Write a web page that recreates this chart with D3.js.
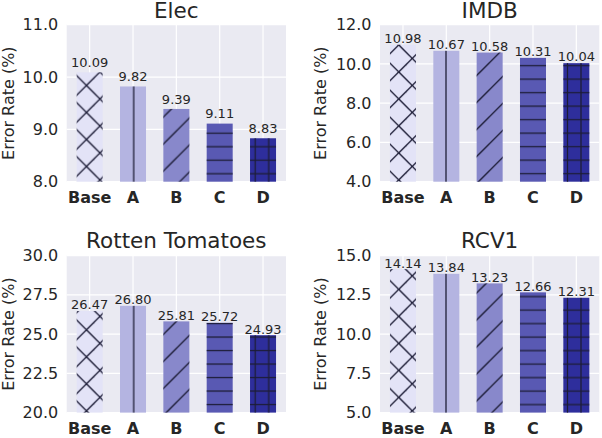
<!DOCTYPE html>
<html>
<head>
<meta charset="UTF-8">
<title>Error Rate</title>
<style>
  body { margin: 0; background: #fff; }
  svg text { font-family: "DejaVu Sans", sans-serif; }
</style>
</head>
<body>
<div id="chart"></div>
<script src="https://d3js.org/d3.v7.min.js"></script>
<script>
// datos
const categories = ["Base", "A", "B", "C", "D"];
const titles = ["Elec", "IMDB", "Rotten Tomatoes", "RCV1"];

const elecValues = [10.09, 9.82, 9.39, 9.11, 8.83];
const imdbValues = [10.98, 10.67, 10.58, 10.31, 10.04];
const rtValues = [26.47, 26.80, 25.81, 25.72, 24.93];
const rcv1Values = [14.14, 13.84, 13.23, 12.66, 12.31];

const elecTicks = [8, 9, 10, 11];
const imdbTicks = [4, 6, 8, 10, 12];
const rtTicks = [20, 22.5, 25, 27.5, 30];
const rcv1Ticks = [5, 7.5, 10, 12.5, 15];

const barColors = ["#e3e3f7", "#b4b4e1", "#8888cb", "#5959b3", "#2e2e9c"];
const hatches = ["x", "|", "/", "-", "+"];

const textColor = "#262626";
const hatchColor = "#1c1c36";
const tile = 27;

// paneles
const plotW = 219.3, plotH = 157;
const panels = [
    { title: titles[0], values: elecValues, ticks: elecTicks, left: 66.7, top: 24.7, labelX: 13.5, shiftX: 0, shiftY: 0 },
    { title: titles[1], values: imdbValues, ticks: imdbTicks, left: 380, top: 24.7, labelX: 326, shiftX: -1, shiftY: 13.5 },
    { title: titles[2], values: rtValues, ticks: rtTicks, left: 66.7, top: 255.6, labelX: 13.5, shiftX: 0, shiftY: 13.5 },
    { title: titles[3], values: rcv1Values, ticks: rcv1Ticks, left: 380, top: 255.6, labelX: 326, shiftX: -1, shiftY: 0 }
];

const svg = d3.select("#chart").append("svg")
    .attr("width", 602)
    .attr("height", 438);
const defs = svg.append("defs");

// lineas de cada trama, en coordenadas del panel
function hatchLines(type) {
    const lines = [];
    const ks = [-3, -2, -1, 0, 1, 2, 3];
    const back = c => [-40, -40 - c, 70, 70 - c];   // x - y = c
    const fwd = c => [-40, c + 40, 70, c - 70];     // x + y = c
    const vert = x => [x, -2, x, tile + 2];
    const horiz = y => [-2, y, tile + 2, y];
    ks.forEach(k => {
        const o = k * tile;
        if (type === "x") { lines.push(back(8 + o)); lines.push(fwd(4.5 + o)); }
        if (type === "/") lines.push(fwd(5 + o));
        if (type === "|") lines.push(vert(13 + o));
        if (type === "-") { lines.push(horiz(5.5 + o)); lines.push(horiz(19 + o)); }
        if (type === "+") {
            lines.push(horiz(5.5 + o)); lines.push(horiz(19 + o));
            lines.push(vert(13 + o)); lines.push(vert(26.5 + o));
        }
    });
    return lines;
}

panels.forEach((p, pi) => {
    const bottom = p.top + plotH;
    const domain = d3.extent(p.ticks);

    hatches.forEach(h => {
        const pat = defs.append("pattern")
            .attr("id", `hatch-${pi}-${hatches.indexOf(h)}`)
            .attr("patternUnits", "userSpaceOnUse")
            .attr("width", tile)
            .attr("height", tile)
            .attr("patternTransform", `translate(${p.left + p.shiftX},${bottom + p.shiftY})`);
        pat.selectAll("line")
            .data(hatchLines(h))
            .enter().append("line")
            .attr("x1", d => d[0]).attr("y1", d => d[1])
            .attr("x2", d => d[2]).attr("y2", d => d[3])
            .attr("stroke", hatchColor)
            .attr("stroke-width", 1.3);
    });

    const x = d3.scaleBand()
        .domain(categories)
        .range([p.left, p.left + plotW])
        .paddingInner(0.4)
        .paddingOuter(0.23);
    const y = d3.scaleLinear()
        .domain(domain)
        .range([bottom, p.top]);

    const g = svg.append("g");

    g.append("rect")
        .attr("x", p.left).attr("y", p.top)
        .attr("width", plotW).attr("height", plotH)
        .attr("fill", "#eaeaf2");

    // rejilla
    g.selectAll(".hgrid")
        .data(p.ticks)
        .enter().append("line")
        .attr("x1", p.left).attr("x2", p.left + plotW)
        .attr("y1", d => y(d)).attr("y2", d => y(d))
        .attr("stroke", "#fff").attr("stroke-width", 1.2);
    g.selectAll(".vgrid")
        .data(categories)
        .enter().append("line")
        .attr("x1", d => x(d) + x.bandwidth() / 2).attr("x2", d => x(d) + x.bandwidth() / 2)
        .attr("y1", p.top).attr("y2", bottom)
        .attr("stroke", "#fff").attr("stroke-width", 1.2);

    // barras
    const bars = categories.map((c, i) => ({ c, i, v: p.values[i] }));
    g.selectAll(".bar")
        .data(bars)
        .enter().append("rect")
        .attr("x", d => x(d.c))
        .attr("y", d => y(d.v))
        .attr("width", x.bandwidth())
        .attr("height", d => bottom - y(d.v))
        .attr("fill", d => barColors[d.i]);
    g.selectAll(".hatch")
        .data(bars)
        .enter().append("rect")
        .attr("x", d => x(d.c))
        .attr("y", d => y(d.v))
        .attr("width", x.bandwidth())
        .attr("height", d => bottom - y(d.v))
        .attr("fill", d => `url(#hatch-${pi}-${d.i})`);

    // etiquetas de valor
    g.selectAll(".val")
        .data(bars)
        .enter().append("text")
        .attr("x", d => x(d.c) + x.bandwidth() / 2)
        .attr("y", d => y(d.v + 0.1))
        .attr("text-anchor", "middle")
        .attr("font-size", "13px")
        .attr("fill", textColor)
        .text(d => d.v.toFixed(2));

    // ejes
    const yAxis = g.append("g")
        .attr("transform", `translate(${p.left},0)`)
        .call(d3.axisLeft(y).tickValues(p.ticks).tickFormat(d3.format(".1f")).tickSize(0).tickPadding(8.5));
    yAxis.select(".domain").remove();
    yAxis.selectAll("text")
        .attr("font-size", "16px")
        .attr("font-family", "DejaVu Sans")
        .attr("fill", textColor);

    const xAxis = g.append("g")
        .attr("transform", `translate(0,${bottom})`)
        .call(d3.axisBottom(x).tickSize(0).tickPadding(10.1));
    xAxis.select(".domain").remove();
    xAxis.selectAll("text")
        .attr("font-size", "16px")
        .attr("font-weight", "bold")
        .attr("font-family", "DejaVu Sans")
        .attr("fill", textColor);

    g.append("text")
        .attr("x", p.left + plotW / 2)
        .attr("y", p.top - 7.2)
        .attr("text-anchor", "middle")
        .attr("font-size", "21.5px")
        .attr("fill", textColor)
        .text(p.title);

    g.append("text")
        .attr("transform", `translate(${p.labelX},${p.top + plotH / 2}) rotate(-90)`)
        .attr("text-anchor", "middle")
        .attr("font-size", "16px")
        .attr("fill", textColor)
        .text("Error Rate (%)");
});
</script>
</body>
</html>
